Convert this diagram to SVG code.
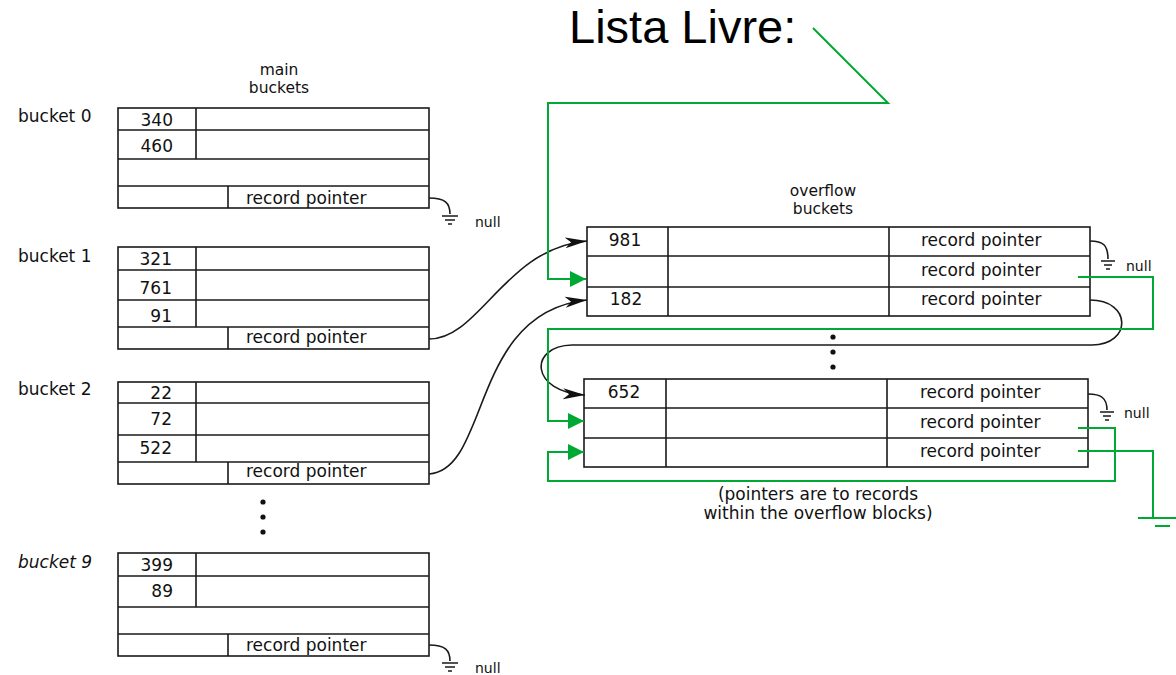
<svg xmlns="http://www.w3.org/2000/svg" width="1176" height="675" viewBox="0 0 1176 675">
<style>
.box{fill:none;stroke:#1a1a1a;stroke-width:1.6}
.ln{stroke:#1a1a1a;stroke-width:1.6;fill:none}
.t{font-family:"DejaVu Sans",sans-serif;font-size:17px;fill:#111}
.h{font-family:"DejaVu Sans",sans-serif;font-size:15.5px;fill:#111;text-anchor:middle}
.n{font-family:"DejaVu Sans",sans-serif;font-size:14px;fill:#111}
.k{text-anchor:end}
.m{text-anchor:middle}
.cv{fill:none;stroke:#1a1a1a;stroke-width:1.6}
.g{fill:none;stroke:#00a933;stroke-width:2}
.big{font-family:"Liberation Sans",Arial,sans-serif;font-size:47px;fill:#000}
</style>
<defs>
<marker id="ah" markerWidth="22" markerHeight="12" refX="22" refY="6" orient="auto" markerUnits="userSpaceOnUse"><path d="M0,0.5 L22,6 L0,11.5 L6,6 z" fill="#111"/></marker>
<marker id="ga" markerWidth="16" markerHeight="16" refX="16" refY="8" orient="auto" markerUnits="userSpaceOnUse"><path d="M0,0 L16,8 L0,16 z" fill="#00a933"/></marker>
</defs>
<rect width="1176" height="675" fill="#fff"/>

<g id="title">
<text class="big" x="569" y="43">Lista Livre:</text>
</g>

<g id="main-label">
<text class="h" x="279" y="75">main</text>
<text class="h" x="279" y="93">buckets</text>
</g>

<g id="bucket0">
<text class="t" x="18" y="122">bucket 0</text>
<rect class="box" x="118" y="108" width="311" height="100"/>
<path class="ln" d="M118,130 H429 M118,159 H429 M118,186 H429 M196,108 V159 M228,186 V208"/>
<text class="t k" x="173" y="126">340</text>
<text class="t k" x="173" y="152">460</text>
<text class="t" x="246" y="204">record pointer</text>
</g>

<g id="bucket1">
<text class="t" x="18" y="262">bucket 1</text>
<rect class="box" x="118" y="247" width="311" height="102"/>
<path class="ln" d="M118,270 H429 M118,300 H429 M118,327 H429 M196,247 V327 M228,327 V349"/>
<text class="t k" x="172" y="265">321</text>
<text class="t k" x="172" y="294">761</text>
<text class="t k" x="172" y="322">91</text>
<text class="t" x="246" y="343">record pointer</text>
</g>

<g id="bucket2">
<text class="t" x="18" y="395">bucket 2</text>
<rect class="box" x="118" y="382" width="311" height="102"/>
<path class="ln" d="M118,403 H429 M118,435 H429 M118,462 H429 M196,382 V462 M228,462 V484"/>
<text class="t k" x="172" y="399">22</text>
<text class="t k" x="172" y="425">72</text>
<text class="t k" x="172" y="454">522</text>
<text class="t" x="246" y="477">record pointer</text>
</g>

<g id="dots-main">
<circle cx="263" cy="502" r="2.6" fill="#111"/>
<circle cx="263" cy="517" r="2.6" fill="#111"/>
<circle cx="263" cy="532" r="2.6" fill="#111"/>
</g>

<g id="bucket9">
<text class="t" x="18" y="568" font-style="italic">bucket 9</text>
<rect class="box" x="118" y="553" width="311" height="103"/>
<path class="ln" d="M118,576 H429 M118,607 H429 M118,634 H429 M196,553 V607 M228,634 V656"/>
<text class="t k" x="173" y="571">399</text>
<text class="t k" x="173" y="597">89</text>
<text class="t" x="246" y="651">record pointer</text>
</g>

<g id="overflow-label">
<text class="h" x="823" y="196">overflow</text>
<text class="h" x="823" y="214">buckets</text>
</g>

<g id="overflow1">
<rect class="box" x="587" y="227" width="503" height="89"/>
<path class="ln" d="M587,256 H1090 M587,287 H1090 M668,227 V316 M889,227 V316"/>
<text class="t m" x="625" y="246">981</text>
<text class="t m" x="626" y="305">182</text>
<text class="t" x="921" y="246">record pointer</text>
<text class="t" x="921" y="276">record pointer</text>
<text class="t" x="921" y="305">record pointer</text>
</g>

<g id="dots-overflow">
<circle cx="833" cy="337" r="2.6" fill="#111"/>
<circle cx="833" cy="352" r="2.6" fill="#111"/>
<circle cx="833" cy="367" r="2.6" fill="#111"/>
</g>

<g id="overflow2">
<rect class="box" x="584" y="379" width="504" height="88"/>
<path class="ln" d="M584,408 H1088 M584,438 H1088 M666,379 V467 M887,379 V467"/>
<text class="t m" x="624" y="398">652</text>
<text class="t" x="920" y="398">record pointer</text>
<text class="t" x="920" y="428">record pointer</text>
<text class="t" x="920" y="457">record pointer</text>
</g>

<g id="note">
<text class="t m" x="818" y="500">(pointers are to records</text>
<text class="t m" x="818" y="519">within the overflow blocks)</text>
</g>

<g id="nulls">
<path class="ln" d="M429,198 C445,198 450,203 450,214 M442,216 H458 M445,220 H455 M448,224 H452"/>
<text class="n" x="475" y="227">null</text>
<path class="ln" d="M429,645 C445,645 450,650 450,661 M442,663 H458 M445,667 H455 M448,671 H452"/>
<text class="n" x="475" y="673">null</text>
<path class="ln" d="M1090,241 C1103,241 1108,245 1108,259 M1101,261 H1115 M1104,265 H1112 M1106,269 H1110"/>
<text class="n" x="1126" y="271">null</text>
<path class="ln" d="M1088,394 C1101,394 1107,398 1107,410 M1100,412 H1114 M1103,416 H1111 M1105,420 H1109"/>
<text class="n" x="1124" y="418">null</text>
</g>

<g id="connectors">
<path class="cv" d="M429,339 C480,339 505,248 587,241" marker-end="url(#ah)"/>
<path class="cv" d="M429,474 C490,470 470,312 587,300" marker-end="url(#ah)"/>
<path class="cv" d="M1090,300 C1132,300 1132,345 1092,345 L572,345 C528,346 530,392 585,395" marker-end="url(#ah)"/>
<path class="g" d="M813,28 L888,103 L548,103 L548,279 L586,279" marker-end="url(#ga)"/>
<path class="g" d="M1078,277 L1153,277 L1153,329 L548,329 L548,421 L584,421" marker-end="url(#ga)"/>
<path class="g" d="M1078,428 L1115,428 L1115,481 L548,481 L548,452 L584,452" marker-end="url(#ga)"/>
<path class="g" d="M1078,451 L1153,451 L1153,518 M1138,518 L1176,518 M1155,526 L1170,526"/>
</g>
</svg>
